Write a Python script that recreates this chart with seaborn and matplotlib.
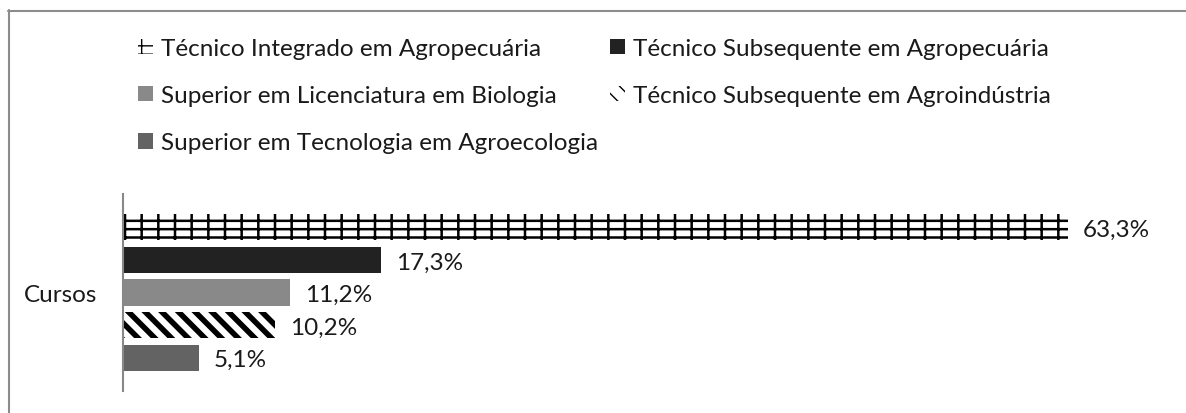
import numpy as np
import seaborn as sns
import pandas as pd
import matplotlib.pyplot as plt
from matplotlib.patches import Rectangle
from matplotlib.lines import Line2D

cursos = ['Técnico Integrado em Agropecuária',
          'Técnico Subsequente em Agropecuária',
          'Superior em Licenciatura em Biologia',
          'Técnico Subsequente em Agroindústria',
          'Superior em Tecnologia em Agroecologia']
valores = [63.3, 17.3, 11.2, 10.2, 5.1]
rotulos = ['63,3%', '17,3%', '11,2%', '10,2%', '5,1%']
grupo = ['Cursos'] * 5

cores = ['white', '#222222', '#898989', 'white', '#636363']
hachuras = ['-+', '', '', '\\\\', '']
larg_hachura = [1.8, 1.0, 1.0, 4.0, 1.0]

df = pd.DataFrame({'grupo': grupo, 'curso': cursos, 'valor': valores})

sns.set_style('white')
plt.rcParams['font.family'] = ['Lato', 'DejaVu Sans']
plt.rcParams['hatch.color'] = 'black'
fs = 17.5

fig = plt.figure(figsize=(11.86, 4.14), dpi=100)
ax = fig.add_axes([123 / 1186, 22 / 414, (1160 - 123) / 1186, 197 / 414])

sns.barplot(data=df, x='valor', y='grupo', hue='curso', hue_order=cursos,
            palette=cores, orient='h', width=0.825, gap=0.2,
            legend=False, ax=ax, saturation=1)

bars = [p for p in ax.patches if isinstance(p, Rectangle)]
for p, h, c, lw in zip(bars, hachuras, cores, larg_hachura):
    p.set_facecolor(c)
    p.set_edgecolor('black')
    p.set_linewidth(0)
    if h:
        p.set_hatch(h)
        if hasattr(p, 'set_hatch_linewidth'):
            p.set_hatch_linewidth(lw)
for p, r in zip(bars, rotulos):
    ax.text(p.get_width() + 1.0, p.get_y() + p.get_height() / 2 + 0.01, r,
            va='center', ha='left', fontsize=fs, color='#1a1a1a')

ax.set_xlim(0, (1160 - 123) / 14.93)
ax.set_ylim(0.5, -0.5)
ax.set_xlabel('')
ax.set_ylabel('')
ax.set_xticks([])
for s in ['top', 'right', 'bottom']:
    ax.spines[s].set_visible(False)
ax.spines['left'].set_color('#888888')
ax.spines['left'].set_linewidth(1.5)
ax.tick_params(axis='y', length=0, pad=18.5, labelsize=fs, labelcolor='#1a1a1a')

# legenda em duas colunas
def patch_leg(i):
    h = Rectangle((0, 0), 1, 1, facecolor=cores[i], edgecolor='black', linewidth=0,
                  hatch=hachuras[i] if hachuras[i] else None)
    return h

col1 = [0, 2, 4]
col2 = [1, 3]
kw = dict(loc='upper left', frameon=False, fontsize=fs, handlelength=0.6,
          handleheight=0.6, handletextpad=0.35, labelspacing=1.08,
          labelcolor='#1a1a1a', borderaxespad=0, borderpad=0)
fig.legend([patch_leg(i) for i in col1], [cursos[i] for i in col1],
           bbox_to_anchor=(138 / 1186, 1 - 39 / 414), **kw)
fig.legend([patch_leg(i) for i in col2], [cursos[i] for i in col2],
           bbox_to_anchor=(610 / 1186, 1 - 39 / 414), **kw)

# moldura (apenas bordas esquerda e superior visíveis)
fig.add_artist(Line2D([8.5 / 1186, 8.5 / 1186], [0, 1 - 11 / 414], transform=fig.transFigure,
                      color='#8c8c8c', linewidth=1.5))
fig.add_artist(Line2D([8 / 1186, 1], [1 - 11.5 / 414, 1 - 11.5 / 414], transform=fig.transFigure,
                      color='#8c8c8c', linewidth=1.5))

fig.savefig('out.png', dpi=100)
